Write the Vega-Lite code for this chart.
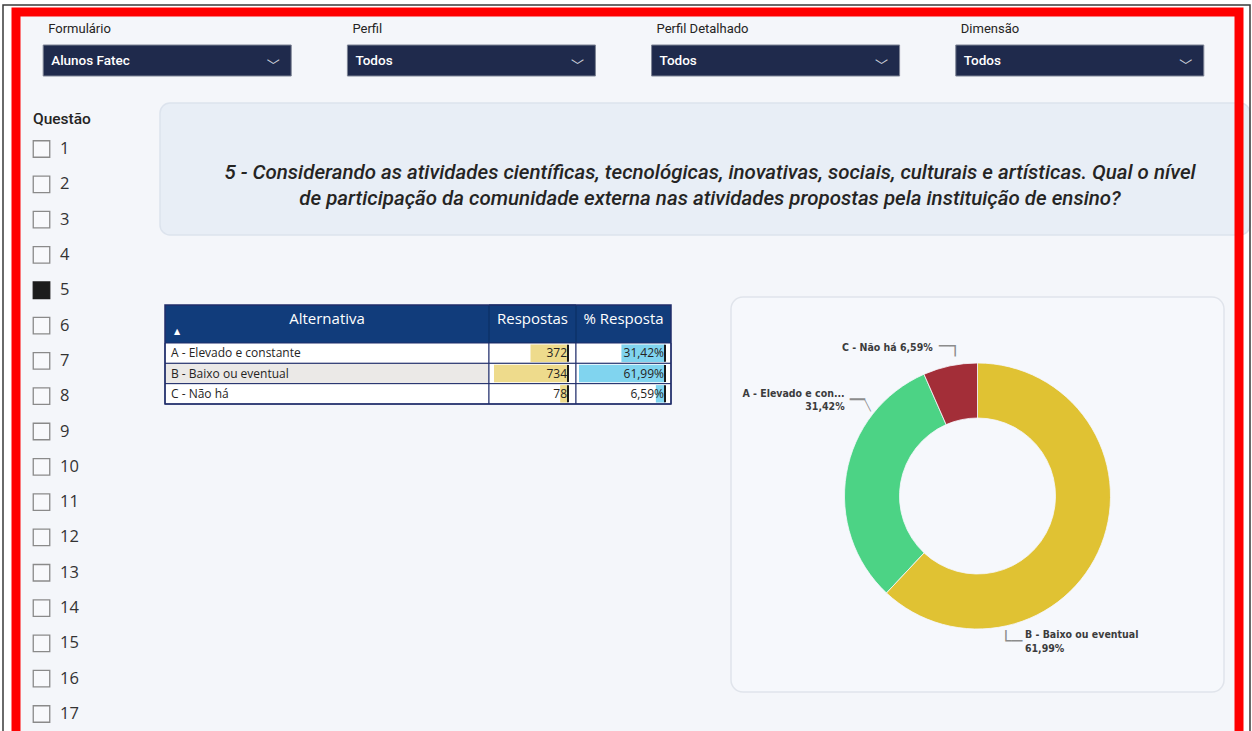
{
  "$schema": "https://vega.github.io/schema/vega-lite/v6.json",
  "width": 1252,
  "height": 731,
  "padding": 0,
  "autosize": {"type": "none"},
  "background": "#ffffff",
  "config": {
    "view": {"stroke": null},
    "locale": {"number": {"decimal": ",", "thousands": ".", "grouping": [3], "currency": ["R$ ", ""]}}
  },
  "params": [{"name": "questao_selecionada", "value": 5}],
  "datasets": {
    "respostas": [
      {"alternativa": "A - Elevado e constante", "rotulo": "A - Elevado e con...", "respostas": 372, "percentual": 0.3142},
      {"alternativa": "B - Baixo ou eventual", "rotulo": "B - Baixo ou eventual", "respostas": 734, "percentual": 0.6199},
      {"alternativa": "C - Não há", "rotulo": "C - Não há", "respostas": 78, "percentual": 0.0659}
    ],
    "filtros": [
      {"campo": "Formulário", "valor": "Alunos Fatec"},
      {"campo": "Perfil", "valor": "Todos"},
      {"campo": "Perfil Detalhado", "valor": "Todos"},
      {"campo": "Dimensão", "valor": "Todos"}
    ],
    "questoes": [
      {"questao": 1}, {"questao": 2}, {"questao": 3}, {"questao": 4}, {"questao": 5}, {"questao": 6},
      {"questao": 7}, {"questao": 8}, {"questao": 9}, {"questao": 10}, {"questao": 11}, {"questao": 12},
      {"questao": 13}, {"questao": 14}, {"questao": 15}, {"questao": 16}, {"questao": 17}
    ],
    "pergunta": [
      {"texto": "5 - Considerando as atividades científicas, tecnológicas, inovativas, sociais, culturais e artísticas. Qual o nível\nde participação da comunidade externa nas atividades propostas pela instituição de ensino?"}
    ]
  },
  "resolve": {"scale": {"x": "independent", "y": "independent", "theta": "independent", "color": "independent", "fill": "independent", "stroke": "independent"}},
  "layer": [
    {
      "data": {"name": "pergunta"},
      "mark": {"type": "rect", "fill": "#f4f6fa"},
      "encoding": {
        "x": {"datum": 0, "type": "quantitative", "scale": {"domain": [0, 1], "range": [16, 1239]}, "axis": null},
        "x2": {"datum": 1},
        "y": {"datum": 0, "type": "quantitative", "scale": {"domain": [0, 1], "range": [12, 745]}, "axis": null},
        "y2": {"datum": 1}
      }
    },
    {
      "data": {"name": "filtros"},
      "mark": {"type": "rect", "fill": "#1f2a4c", "stroke": "#7d8394", "strokeWidth": 1},
      "encoding": {
        "x": {"field": "campo", "type": "nominal", "scale": {"type": "band", "domain": ["Formulário", "Perfil", "Perfil Detalhado", "Dimensão"], "range": [43.2, 1203.8], "paddingInner": 0.1847, "paddingOuter": 0}, "axis": null},
        "y": {"datum": 0, "type": "quantitative", "scale": {"domain": [0, 1], "range": [45, 76]}, "axis": null},
        "y2": {"datum": 1}
      }
    },
    {
      "data": {"name": "filtros"},
      "mark": {"type": "text", "align": "left", "baseline": "alphabetic", "dx": 5, "dy": -12, "fontSize": 13, "font": "Roboto", "fill": "#252423"},
      "encoding": {
        "x": {"field": "campo", "type": "nominal", "bandPosition": 0, "scale": {"type": "band", "domain": ["Formulário", "Perfil", "Perfil Detalhado", "Dimensão"], "range": [43.2, 1203.8], "paddingInner": 0.1847, "paddingOuter": 0}, "axis": null},
        "y": {"datum": 0, "type": "quantitative", "scale": {"domain": [0, 1], "range": [45, 76]}, "axis": null},
        "text": {"field": "campo"}
      }
    },
    {
      "data": {"name": "filtros"},
      "mark": {"type": "text", "align": "left", "baseline": "middle", "dx": 8, "fontSize": 13.5, "fontWeight": 500, "font": "Roboto", "fill": "#ffffff"},
      "encoding": {
        "x": {"field": "campo", "type": "nominal", "bandPosition": 0, "scale": {"type": "band", "domain": ["Formulário", "Perfil", "Perfil Detalhado", "Dimensão"], "range": [43.2, 1203.8], "paddingInner": 0.1847, "paddingOuter": 0}, "axis": null},
        "y": {"datum": 0.5, "type": "quantitative", "scale": {"domain": [0, 1], "range": [45, 76]}, "axis": null},
        "text": {"field": "valor"}
      }
    },
    {
      "data": {"name": "filtros"},
      "mark": {"type": "text", "align": "center", "baseline": "middle", "dx": -18, "dy": 5, "fontSize": 13, "font": "Noto Sans CJK SC", "fill": "#c9cdd8"},
      "encoding": {
        "x": {"field": "campo", "type": "nominal", "bandPosition": 1, "scale": {"type": "band", "domain": ["Formulário", "Perfil", "Perfil Detalhado", "Dimensão"], "range": [43.2, 1203.8], "paddingInner": 0.1847, "paddingOuter": 0}, "axis": null},
        "y": {"datum": 0.5, "type": "quantitative", "scale": {"domain": [0, 1], "range": [45, 76]}, "axis": null},
        "text": {"value": "﹀"}
      }
    },
    {
      "data": {"name": "pergunta"},
      "mark": {"type": "text", "align": "left", "baseline": "middle", "dx": -8.5, "dy": -30, "fontSize": 15.5, "fontWeight": 500, "font": "Roboto", "fill": "#252423"},
      "encoding": {
        "x": {"datum": 0, "type": "quantitative", "scale": {"domain": [0, 1], "range": [41.5, 60]}, "axis": null},
        "y": {"datum": 1, "type": "ordinal", "scale": {"type": "point", "domain": [1, 2, 3, 4, 5, 6, 7, 8, 9, 10, 11, 12, 13, 14, 15, 16, 17], "range": [149, 714], "padding": 0}, "axis": null},
        "text": {"value": "Questão"}
      }
    },
    {
      "data": {"name": "questoes"},
      "mark": {"type": "point", "shape": "square", "size": 272, "strokeWidth": 1.3, "filled": true, "opacity": 1},
      "encoding": {
        "x": {"datum": 0, "type": "quantitative", "scale": {"domain": [0, 1], "range": [41.5, 60]}, "axis": null},
        "y": {"field": "questao", "type": "ordinal", "scale": {"type": "point", "domain": [1, 2, 3, 4, 5, 6, 7, 8, 9, 10, 11, 12, 13, 14, 15, 16, 17], "range": [149, 714], "padding": 0}, "axis": null},
        "fill": {"condition": {"test": "datum.questao == questao_selecionada", "value": "#1c1c1c"}, "value": "#f8f9fc"},
        "stroke": {"condition": {"test": "datum.questao == questao_selecionada", "value": "#1c1c1c"}, "value": "#8a8a8a"}
      }
    },
    {
      "data": {"name": "questoes"},
      "mark": {"type": "text", "align": "left", "baseline": "middle", "fontSize": 16.5, "font": "Open Sans", "fill": "#333333"},
      "encoding": {
        "x": {"datum": 1, "type": "quantitative", "scale": {"domain": [0, 1], "range": [41.5, 60]}, "axis": null},
        "y": {"field": "questao", "type": "ordinal", "scale": {"type": "point", "domain": [1, 2, 3, 4, 5, 6, 7, 8, 9, 10, 11, 12, 13, 14, 15, 16, 17], "range": [149, 714], "padding": 0}, "axis": null},
        "text": {"field": "questao"}
      }
    },
    {
      "data": {"name": "pergunta"},
      "mark": {"type": "rect", "cornerRadius": 10, "fill": "#e8eef6", "stroke": "#dce3ed", "strokeWidth": 1.5},
      "encoding": {
        "x": {"datum": 0, "type": "quantitative", "scale": {"domain": [0, 1], "range": [160, 1250]}, "axis": null},
        "x2": {"datum": 1},
        "y": {"datum": 0, "type": "quantitative", "scale": {"domain": [0, 1], "range": [103, 235]}, "axis": null},
        "y2": {"datum": 1}
      }
    },
    {
      "data": {"name": "pergunta"},
      "mark": {"type": "text", "align": "center", "baseline": "middle", "lineBreak": "\n", "lineHeight": 26, "dx": 5, "dy": 4, "fontSize": 20.5, "fontStyle": "italic", "fontWeight": 500, "font": "Roboto", "fill": "#252423"},
      "encoding": {
        "x": {"datum": 0.5, "type": "quantitative", "scale": {"domain": [0, 1], "range": [160, 1250]}, "axis": null},
        "y": {"datum": 0.5, "type": "quantitative", "scale": {"domain": [0, 1], "range": [103, 235]}, "axis": null},
        "text": {"field": "texto"}
      }
    },
    {
      "data": {"name": "pergunta"},
      "mark": {"type": "rect", "fill": "#113c7b"},
      "encoding": {
        "x": {"datum": 0, "type": "quantitative", "scale": {"domain": [0, 1], "range": [165, 671]}, "axis": null},
        "x2": {"datum": 1},
        "y": {"datum": 0, "type": "quantitative", "scale": {"domain": [0, 1], "range": [305, 343]}, "axis": null},
        "y2": {"datum": 1}
      }
    },
    {
      "data": {"name": "pergunta"},
      "mark": {"type": "rect", "fill": null, "stroke": "#0b2c60", "strokeWidth": 1},
      "encoding": {
        "x": {"datum": 0, "type": "quantitative", "scale": {"domain": [0, 1], "range": [489, 576]}, "axis": null},
        "x2": {"datum": 1},
        "y": {"datum": 0, "type": "quantitative", "scale": {"domain": [0, 1], "range": [305, 343]}, "axis": null},
        "y2": {"datum": 1}
      }
    },
    {
      "data": {"name": "pergunta"},
      "mark": {"type": "text", "align": "center", "baseline": "middle", "dy": -5, "fontSize": 15, "font": "Open Sans", "fill": "#ffffff"},
      "encoding": {
        "x": {"datum": 0.5, "type": "quantitative", "scale": {"domain": [0, 1], "range": [165, 489]}, "axis": null},
        "y": {"datum": 0.5, "type": "quantitative", "scale": {"domain": [0, 1], "range": [305, 343]}, "axis": null},
        "text": {"value": "Alternativa"}
      }
    },
    {
      "data": {"name": "pergunta"},
      "mark": {"type": "text", "align": "center", "baseline": "middle", "dy": 8, "dx": 12, "fontSize": 8, "font": "DejaVu Sans", "fill": "#ffffff"},
      "encoding": {
        "x": {"datum": 0, "type": "quantitative", "scale": {"domain": [0, 1], "range": [165, 489]}, "axis": null},
        "y": {"datum": 0.5, "type": "quantitative", "scale": {"domain": [0, 1], "range": [305, 343]}, "axis": null},
        "text": {"value": "▲"}
      }
    },
    {
      "data": {"name": "pergunta"},
      "mark": {"type": "text", "align": "center", "baseline": "middle", "dy": -5, "fontSize": 15, "font": "Open Sans", "fill": "#ffffff"},
      "encoding": {
        "x": {"datum": 0.5, "type": "quantitative", "scale": {"domain": [0, 1], "range": [489, 576]}, "axis": null},
        "y": {"datum": 0.5, "type": "quantitative", "scale": {"domain": [0, 1], "range": [305, 343]}, "axis": null},
        "text": {"value": "Respostas"}
      }
    },
    {
      "data": {"name": "pergunta"},
      "mark": {"type": "text", "align": "center", "baseline": "middle", "dy": -5, "fontSize": 15, "font": "Open Sans", "fill": "#ffffff"},
      "encoding": {
        "x": {"datum": 0.5, "type": "quantitative", "scale": {"domain": [0, 1], "range": [576, 671]}, "axis": null},
        "y": {"datum": 0.5, "type": "quantitative", "scale": {"domain": [0, 1], "range": [305, 343]}, "axis": null},
        "text": {"value": "% Resposta"}
      }
    },
    {
      "data": {"name": "respostas"},
      "mark": {"type": "rect", "stroke": "#1f2d6a", "strokeWidth": 1},
      "encoding": {
        "x": {"datum": 0, "type": "quantitative", "scale": {"domain": [0, 1], "range": [165, 489]}, "axis": null},
        "x2": {"datum": 1},
        "y": {"field": "alternativa", "type": "nominal", "scale": {"type": "band", "domain": ["A - Elevado e constante", "B - Baixo ou eventual", "C - Não há"], "range": [343, 404], "paddingInner": 0, "paddingOuter": 0}, "axis": null},
        "fill": {"condition": {"test": "datum.alternativa == 'B - Baixo ou eventual'", "value": "#ebe9e7"}, "value": "#ffffff"}
      }
    },
    {
      "data": {"name": "respostas"},
      "mark": {"type": "rect", "fill": "#ffffff", "stroke": "#1f2d6a", "strokeWidth": 1},
      "encoding": {
        "x": {"datum": 0, "type": "quantitative", "scale": {"domain": [0, 1], "range": [489, 576]}, "axis": null},
        "x2": {"datum": 1},
        "y": {"field": "alternativa", "type": "nominal", "scale": {"type": "band", "domain": ["A - Elevado e constante", "B - Baixo ou eventual", "C - Não há"], "range": [343, 404], "paddingInner": 0, "paddingOuter": 0}, "axis": null}
      }
    },
    {
      "data": {"name": "respostas"},
      "mark": {"type": "rect", "fill": "#ffffff", "stroke": "#1f2d6a", "strokeWidth": 1},
      "encoding": {
        "x": {"datum": 0, "type": "quantitative", "scale": {"domain": [0, 1], "range": [576, 671]}, "axis": null},
        "x2": {"datum": 1},
        "y": {"field": "alternativa", "type": "nominal", "scale": {"type": "band", "domain": ["A - Elevado e constante", "B - Baixo ou eventual", "C - Não há"], "range": [343, 404], "paddingInner": 0, "paddingOuter": 0}, "axis": null}
      }
    },
    {
      "data": {"name": "respostas"},
      "mark": {"type": "text", "align": "left", "baseline": "middle", "dx": 6, "fontSize": 12, "font": "Open Sans", "fill": "#252423"},
      "encoding": {
        "x": {"datum": 0, "type": "quantitative", "scale": {"domain": [0, 1], "range": [165, 489]}, "axis": null},
        "y": {"field": "alternativa", "type": "nominal", "bandPosition": 0.5, "scale": {"type": "band", "domain": ["A - Elevado e constante", "B - Baixo ou eventual", "C - Não há"], "range": [343, 404], "paddingInner": 0, "paddingOuter": 0}, "axis": null},
        "text": {"field": "alternativa"}
      }
    },
    {
      "data": {"name": "respostas"},
      "mark": {"type": "bar", "fill": "#eedb8c", "height": {"band": 0.86}},
      "encoding": {
        "x": {"field": "respostas", "type": "quantitative", "scale": {"domain": [0, 734], "range": [568, 494]}, "axis": null},
        "y": {"field": "alternativa", "type": "nominal", "scale": {"type": "band", "domain": ["A - Elevado e constante", "B - Baixo ou eventual", "C - Não há"], "range": [343, 404], "paddingInner": 0, "paddingOuter": 0}, "axis": null}
      }
    },
    {
      "data": {"name": "respostas"},
      "mark": {"type": "tick", "orient": "vertical", "color": "#1a1a1a", "thickness": 2, "size": 17, "opacity": 1},
      "encoding": {
        "x": {"datum": 0, "type": "quantitative", "scale": {"domain": [0, 734], "range": [568, 494]}, "axis": null},
        "y": {"field": "alternativa", "type": "nominal", "scale": {"type": "band", "domain": ["A - Elevado e constante", "B - Baixo ou eventual", "C - Não há"], "range": [343, 404], "paddingInner": 0, "paddingOuter": 0}, "axis": null}
      }
    },
    {
      "data": {"name": "respostas"},
      "mark": {"type": "text", "align": "right", "baseline": "middle", "dx": -1, "fontSize": 12, "font": "Open Sans", "fill": "#252423"},
      "encoding": {
        "x": {"datum": 0, "type": "quantitative", "scale": {"domain": [0, 734], "range": [568, 494]}, "axis": null},
        "y": {"field": "alternativa", "type": "nominal", "bandPosition": 0.5, "scale": {"type": "band", "domain": ["A - Elevado e constante", "B - Baixo ou eventual", "C - Não há"], "range": [343, 404], "paddingInner": 0, "paddingOuter": 0}, "axis": null},
        "text": {"field": "respostas", "type": "quantitative"}
      }
    },
    {
      "data": {"name": "respostas"},
      "mark": {"type": "bar", "fill": "#80d4ef", "height": {"band": 0.86}},
      "encoding": {
        "x": {"field": "percentual", "type": "quantitative", "scale": {"domain": [0, 0.6199], "range": [665, 579]}, "axis": null},
        "y": {"field": "alternativa", "type": "nominal", "scale": {"type": "band", "domain": ["A - Elevado e constante", "B - Baixo ou eventual", "C - Não há"], "range": [343, 404], "paddingInner": 0, "paddingOuter": 0}, "axis": null}
      }
    },
    {
      "data": {"name": "respostas"},
      "mark": {"type": "tick", "orient": "vertical", "color": "#1a1a1a", "thickness": 2, "size": 17, "opacity": 1},
      "encoding": {
        "x": {"datum": 0, "type": "quantitative", "scale": {"domain": [0, 0.6199], "range": [665, 579]}, "axis": null},
        "y": {"field": "alternativa", "type": "nominal", "scale": {"type": "band", "domain": ["A - Elevado e constante", "B - Baixo ou eventual", "C - Não há"], "range": [343, 404], "paddingInner": 0, "paddingOuter": 0}, "axis": null}
      }
    },
    {
      "data": {"name": "respostas"},
      "mark": {"type": "text", "align": "right", "baseline": "middle", "dx": -1, "fontSize": 12, "font": "Open Sans", "fill": "#252423"},
      "encoding": {
        "x": {"datum": 0, "type": "quantitative", "scale": {"domain": [0, 0.6199], "range": [665, 579]}, "axis": null},
        "y": {"field": "alternativa", "type": "nominal", "bandPosition": 0.5, "scale": {"type": "band", "domain": ["A - Elevado e constante", "B - Baixo ou eventual", "C - Não há"], "range": [343, 404], "paddingInner": 0, "paddingOuter": 0}, "axis": null},
        "text": {"field": "percentual", "type": "quantitative", "format": ".2%"}
      }
    },
    {
      "data": {"name": "pergunta"},
      "mark": {"type": "rect", "fill": null, "stroke": "#1f2d6a", "strokeWidth": 1.5},
      "encoding": {
        "x": {"datum": 0, "type": "quantitative", "scale": {"domain": [0, 1], "range": [165, 671]}, "axis": null},
        "x2": {"datum": 1},
        "y": {"datum": 0, "type": "quantitative", "scale": {"domain": [0, 1], "range": [305, 404]}, "axis": null},
        "y2": {"datum": 1}
      }
    },
    {
      "data": {"name": "pergunta"},
      "mark": {"type": "rect", "cornerRadius": 12, "fill": "#f6f8fc", "stroke": "#e0e4eb", "strokeWidth": 1.5},
      "encoding": {
        "x": {"datum": 0, "type": "quantitative", "scale": {"domain": [0, 1], "range": [731, 1224]}, "axis": null},
        "x2": {"datum": 1},
        "y": {"datum": 0, "type": "quantitative", "scale": {"domain": [0, 1], "range": [297, 692]}, "axis": null},
        "y2": {"datum": 1}
      }
    },
    {
      "data": {"name": "respostas"},
      "mark": {"type": "arc", "innerRadius": 78, "outerRadius": 133, "stroke": "#f6f8fc", "strokeWidth": 0.8},
      "encoding": {
        "x": {"datum": 0.5, "type": "quantitative", "scale": {"domain": [0, 1], "range": [731, 1224]}, "axis": null},
        "y": {"datum": 0.5, "type": "quantitative", "scale": {"domain": [0, 1], "range": [297, 695]}, "axis": null},
        "theta": {"field": "respostas", "type": "quantitative", "stack": true},
        "order": {"field": "respostas", "sort": "descending"},
        "color": {"field": "alternativa", "type": "nominal", "scale": {"domain": ["A - Elevado e constante", "B - Baixo ou eventual", "C - Não há"], "range": ["#4cd385", "#e0c233", "#a32e38"]}, "legend": null}
      }
    },
    {
      "data": {"name": "respostas"},
      "mark": {"type": "text", "radius": 150, "align": "right", "baseline": "middle", "dx": -50, "dy": -1, "fontSize": 10.5, "fontWeight": "bold", "font": "DejaVu Sans Condensed", "fill": "#3c3c3c"},
      "encoding": {
        "x": {"datum": 0.5, "type": "quantitative", "scale": {"domain": [0, 1], "range": [731, 1224]}, "axis": null},
        "y": {"datum": 0.5, "type": "quantitative", "scale": {"domain": [0, 1], "range": [297, 695]}, "axis": null},
        "theta": {"field": "respostas", "type": "quantitative", "stack": true},
        "order": {"field": "respostas", "sort": "descending"},
        "text": {"condition": {"test": "datum.alternativa == 'C - Não há'", "field": "rotulo"}, "value": ""}
      }
    },
    {
      "data": {"name": "respostas"},
      "mark": {"type": "text", "radius": 150, "align": "right", "baseline": "middle", "dx": -14, "dy": -1, "fontSize": 10.5, "fontWeight": "bold", "font": "DejaVu Sans Condensed", "fill": "#3c3c3c"},
      "encoding": {
        "x": {"datum": 0.5, "type": "quantitative", "scale": {"domain": [0, 1], "range": [731, 1224]}, "axis": null},
        "y": {"datum": 0.5, "type": "quantitative", "scale": {"domain": [0, 1], "range": [297, 695]}, "axis": null},
        "theta": {"field": "respostas", "type": "quantitative", "stack": true},
        "order": {"field": "respostas", "sort": "descending"},
        "text": {"condition": {"test": "datum.alternativa == 'C - Não há'", "field": "percentual", "format": ".2%"}, "value": ""}
      }
    },
    {
      "data": {"name": "respostas"},
      "mark": {"type": "text", "radius": 150, "align": "left", "baseline": "middle", "dx": -7.7, "dy": -2, "fontSize": 18, "font": "DejaVu Sans", "fill": "#8c8c8c"},
      "encoding": {
        "x": {"datum": 0.5, "type": "quantitative", "scale": {"domain": [0, 1], "range": [731, 1224]}, "axis": null},
        "y": {"datum": 0.5, "type": "quantitative", "scale": {"domain": [0, 1], "range": [297, 695]}, "axis": null},
        "theta": {"field": "respostas", "type": "quantitative", "stack": true},
        "order": {"field": "respostas", "sort": "descending"},
        "text": {"condition": {"test": "datum.alternativa == 'C - Não há'", "value": "─┐"}, "value": ""}
      }
    },
    {
      "data": {"name": "respostas"},
      "mark": {"type": "text", "radius": 150, "align": "right", "baseline": "middle", "dx": 15, "dy": -77, "fontSize": 10.5, "fontWeight": "bold", "font": "DejaVu Sans Condensed", "fill": "#3c3c3c"},
      "encoding": {
        "x": {"datum": 0.5, "type": "quantitative", "scale": {"domain": [0, 1], "range": [731, 1224]}, "axis": null},
        "y": {"datum": 0.5, "type": "quantitative", "scale": {"domain": [0, 1], "range": [297, 695]}, "axis": null},
        "theta": {"field": "respostas", "type": "quantitative", "stack": true},
        "order": {"field": "respostas", "sort": "descending"},
        "text": {"condition": {"test": "datum.alternativa == 'A - Elevado e constante'", "field": "rotulo"}, "value": ""}
      }
    },
    {
      "data": {"name": "respostas"},
      "mark": {"type": "text", "radius": 150, "align": "right", "baseline": "middle", "dx": 15, "dy": -64, "fontSize": 10.5, "fontWeight": "bold", "font": "DejaVu Sans Condensed", "fill": "#3c3c3c"},
      "encoding": {
        "x": {"datum": 0.5, "type": "quantitative", "scale": {"domain": [0, 1], "range": [731, 1224]}, "axis": null},
        "y": {"datum": 0.5, "type": "quantitative", "scale": {"domain": [0, 1], "range": [297, 695]}, "axis": null},
        "theta": {"field": "respostas", "type": "quantitative", "stack": true},
        "order": {"field": "respostas", "sort": "descending"},
        "text": {"condition": {"test": "datum.alternativa == 'A - Elevado e constante'", "field": "percentual", "format": ".2%"}, "value": ""}
      }
    },
    {
      "data": {"name": "respostas"},
      "mark": {"type": "text", "radius": 150, "align": "left", "baseline": "middle", "dx": 20, "dy": -70.5, "fontSize": 25, "font": "DejaVu Sans", "fill": "#8c8c8c"},
      "encoding": {
        "x": {"datum": 0.5, "type": "quantitative", "scale": {"domain": [0, 1], "range": [731, 1224]}, "axis": null},
        "y": {"datum": 0.5, "type": "quantitative", "scale": {"domain": [0, 1], "range": [297, 695]}, "axis": null},
        "theta": {"field": "respostas", "type": "quantitative", "stack": true},
        "order": {"field": "respostas", "sort": "descending"},
        "text": {"condition": {"test": "datum.alternativa == 'A - Elevado e constante'", "value": "─"}, "value": ""}
      }
    },
    {
      "data": {"name": "respostas"},
      "mark": {"type": "text", "radius": 150, "align": "left", "baseline": "middle", "dx": 35, "dy": -64.7, "fontSize": 10, "font": "DejaVu Sans", "fill": "#8c8c8c"},
      "encoding": {
        "x": {"datum": 0.5, "type": "quantitative", "scale": {"domain": [0, 1], "range": [731, 1224]}, "axis": null},
        "y": {"datum": 0.5, "type": "quantitative", "scale": {"domain": [0, 1], "range": [297, 695]}, "axis": null},
        "theta": {"field": "respostas", "type": "quantitative", "stack": true},
        "order": {"field": "respostas", "sort": "descending"},
        "text": {"condition": {"test": "datum.alternativa == 'A - Elevado e constante'", "value": "╲"}, "value": ""}
      }
    },
    {
      "data": {"name": "respostas"},
      "mark": {"type": "text", "radius": 150, "align": "left", "baseline": "middle", "dx": -92, "dy": 84, "fontSize": 10.5, "fontWeight": "bold", "font": "DejaVu Sans Condensed", "fill": "#3c3c3c"},
      "encoding": {
        "x": {"datum": 0.5, "type": "quantitative", "scale": {"domain": [0, 1], "range": [731, 1224]}, "axis": null},
        "y": {"datum": 0.5, "type": "quantitative", "scale": {"domain": [0, 1], "range": [297, 695]}, "axis": null},
        "theta": {"field": "respostas", "type": "quantitative", "stack": true},
        "order": {"field": "respostas", "sort": "descending"},
        "text": {"condition": {"test": "datum.alternativa == 'B - Baixo ou eventual'", "field": "rotulo"}, "value": ""}
      }
    },
    {
      "data": {"name": "respostas"},
      "mark": {"type": "text", "radius": 150, "align": "left", "baseline": "middle", "dx": -92, "dy": 98, "fontSize": 10.5, "fontWeight": "bold", "font": "DejaVu Sans Condensed", "fill": "#3c3c3c"},
      "encoding": {
        "x": {"datum": 0.5, "type": "quantitative", "scale": {"domain": [0, 1], "range": [731, 1224]}, "axis": null},
        "y": {"datum": 0.5, "type": "quantitative", "scale": {"domain": [0, 1], "range": [297, 695]}, "axis": null},
        "theta": {"field": "respostas", "type": "quantitative", "stack": true},
        "order": {"field": "respostas", "sort": "descending"},
        "text": {"condition": {"test": "datum.alternativa == 'B - Baixo ou eventual'", "field": "percentual", "format": ".2%"}, "value": ""}
      }
    },
    {
      "data": {"name": "respostas"},
      "mark": {"type": "text", "radius": 150, "align": "left", "baseline": "middle", "dx": -116.4, "dy": 91, "fontSize": 18, "font": "DejaVu Sans", "fill": "#8c8c8c"},
      "encoding": {
        "x": {"datum": 0.5, "type": "quantitative", "scale": {"domain": [0, 1], "range": [731, 1224]}, "axis": null},
        "y": {"datum": 0.5, "type": "quantitative", "scale": {"domain": [0, 1], "range": [297, 695]}, "axis": null},
        "theta": {"field": "respostas", "type": "quantitative", "stack": true},
        "order": {"field": "respostas", "sort": "descending"},
        "text": {"condition": {"test": "datum.alternativa == 'B - Baixo ou eventual'", "value": "└─"}, "value": ""}
      }
    },
    {
      "data": {"name": "pergunta"},
      "mark": {"type": "rect", "fill": null, "stroke": "#ff0000", "strokeWidth": 9},
      "encoding": {
        "x": {"datum": 0, "type": "quantitative", "scale": {"domain": [0, 1], "range": [16, 1239]}, "axis": null},
        "x2": {"datum": 1},
        "y": {"datum": 0, "type": "quantitative", "scale": {"domain": [0, 1], "range": [12, 745]}, "axis": null},
        "y2": {"datum": 1}
      }
    },
    {
      "data": {"name": "pergunta"},
      "mark": {"type": "rect", "fill": null, "stroke": "#3a3a3a", "strokeWidth": 1.5},
      "encoding": {
        "x": {"datum": 0, "type": "quantitative", "scale": {"domain": [0, 1], "range": [3, 1250]}, "axis": null},
        "x2": {"datum": 1},
        "y": {"datum": 0, "type": "quantitative", "scale": {"domain": [0, 1], "range": [5, 760]}, "axis": null},
        "y2": {"datum": 1}
      }
    }
  ]
}
